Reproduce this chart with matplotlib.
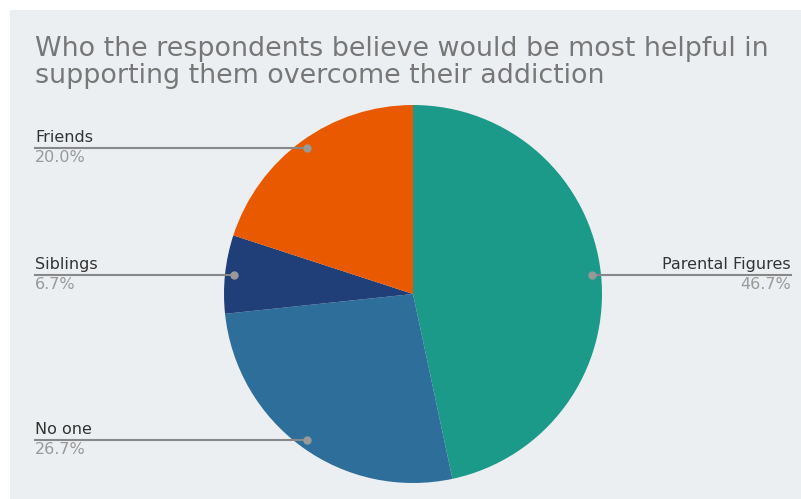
import matplotlib
matplotlib.use("Agg")
import matplotlib.pyplot as plt
from matplotlib.patches import Rectangle
import numpy as np

title = "Who the respondents believe would be most helpful in\nsupporting them overcome their addiction"
labels = ["Parental Figures", "No one", "Siblings", "Friends"]
shares = [46.7, 26.7, 6.7, 20.0]
colors = ["#1b9a8a", "#2d6f9a", "#203e78", "#e95a00"]

W, H = 801, 499
fig = plt.figure(figsize=(W / 100, H / 100), dpi=100, facecolor="white")
fig.patches.append(Rectangle((10 / W, 0), 1, (H - 10) / H, transform=fig.transFigure,
                             facecolor="#eceff1", edgecolor="none", zorder=-10))

fig.text(35 / W, 1 - 36 / H, title, fontsize=19.4, color="#777777", va="top", ha="left",
         linespacing=1.03)

# pie axes placed in pixels: center (413, 294), radius 189
cx, cy, r = 413, 294, 189
ax = fig.add_axes([(cx - r) / W, (H - cy - r) / H, 2 * r / W, 2 * r / H])
wedges, _ = ax.pie(shares, colors=colors, startangle=90, counterclock=False, radius=1,
                   wedgeprops=dict(linewidth=0))
ax.set_aspect("auto")
ax.set_xlim(-1, 1)
ax.set_ylim(-1, 1)
ax.axis("off")

total = sum(shares)
start = 90.0
for lab, val in zip(labels, shares):
    ang = np.deg2rad(start - val / total * 360 / 2)
    start -= val / total * 360
    x, y = 0.952 * np.cos(ang), 0.952 * np.sin(ang)
    if x > 0:
        xe, ha = (791 - cx) / r, "right"
    else:
        xe, ha = (35 - cx) / r, "left"
    ax.plot([x, xe], [y, y], color="#888888", lw=1.5, clip_on=False, zorder=3)
    ax.plot([x], [y], "o", color="#999999", ms=5, clip_on=False, zorder=4)
    ax.text(xe, y + 3 / r, lab, ha=ha, va="bottom", fontsize=11.5, color="#333333")
    ax.text(xe, y - 2 / r, f"{val:.1f}%", ha=ha, va="top", fontsize=11.5, color="#999999")

fig.savefig("out.png", dpi=100, facecolor="white")
